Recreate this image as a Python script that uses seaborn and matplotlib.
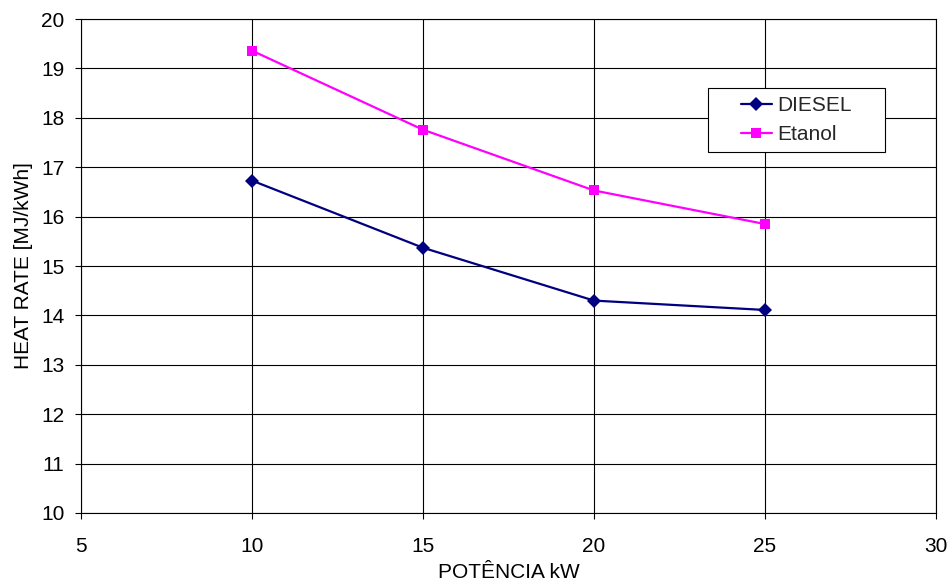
import numpy as np
import pandas as pd
import matplotlib
matplotlib.use("Agg")
import matplotlib.pyplot as plt
from matplotlib.patches import Rectangle
import seaborn as sns

# values
potencia = [10, 15, 20, 25]
diesel = [16.73, 15.37, 14.30, 14.11]
etanol = [19.36, 17.76, 16.53, 15.85]

series_names = ["DIESEL", "Etanol"]
colors = {"DIESEL": "#000080", "Etanol": "#FF00FF"}
markers = {"DIESEL": "D", "Etanol": "s"}

x_ticks = [5, 10, 15, 20, 25, 30]
y_ticks = list(range(10, 21))

df = pd.DataFrame(
    {
        "potencia": potencia * 2,
        "heat_rate": diesel + etanol,
        "serie": ["DIESEL"] * len(potencia) + ["Etanol"] * len(potencia),
    }
)

sns.set_theme(style="white")
plt.rcParams["font.family"] = ["Liberation Sans", "DejaVu Sans"]

fig = plt.figure(figsize=(9.53, 5.88), dpi=100)
ax = fig.add_axes([0.085, 0.1276, 0.897, 0.840])

sns.lineplot(
    data=df,
    x="potencia",
    y="heat_rate",
    hue="serie",
    hue_order=series_names,
    style="serie",
    style_order=series_names,
    palette=colors,
    markers=markers,
    dashes=False,
    markersize=7.5,
    markeredgewidth=0,
    linewidth=1.6,
    ax=ax,
)

ax.set_xlim(5, 30)
ax.set_ylim(10, 20)
ax.set_xticks(x_ticks)
ax.set_yticks(y_ticks)
ax.grid(True, color="black", linewidth=0.8)
ax.set_axisbelow(True)
for s in ax.spines.values():
    s.set_color("black")
    s.set_linewidth(0.8)
ax.tick_params(axis="both", direction="out", length=4, width=0.8, color="black",
               labelsize=15, labelcolor="black", bottom=True, left=True)
ax.tick_params(axis="x", pad=13)
ax.tick_params(axis="y", pad=8)
ax.set_xlabel("POTÊNCIA kW", fontsize=15, color="black", labelpad=5)
ax.set_ylabel("HEAT RATE [MJ/kWh]", fontsize=15, color="black", labelpad=6)

# legend box (Excel style: wide frame, entries centred)
ax.add_patch(Rectangle((0.7333, 0.7308), 0.2071, 0.1295, transform=ax.transAxes,
                       facecolor="white", edgecolor="black", linewidth=0.8, zorder=4))
leg = ax.legend(
    loc="center",
    bbox_to_anchor=(0.8368, 0.7955),
    frameon=False,
    fontsize=15,
    handlelength=1.5,
    borderpad=0,
    labelspacing=0.5,
    handletextpad=0.25,
)
leg.set_zorder(5)

fig.savefig("out.png", dpi=100)
